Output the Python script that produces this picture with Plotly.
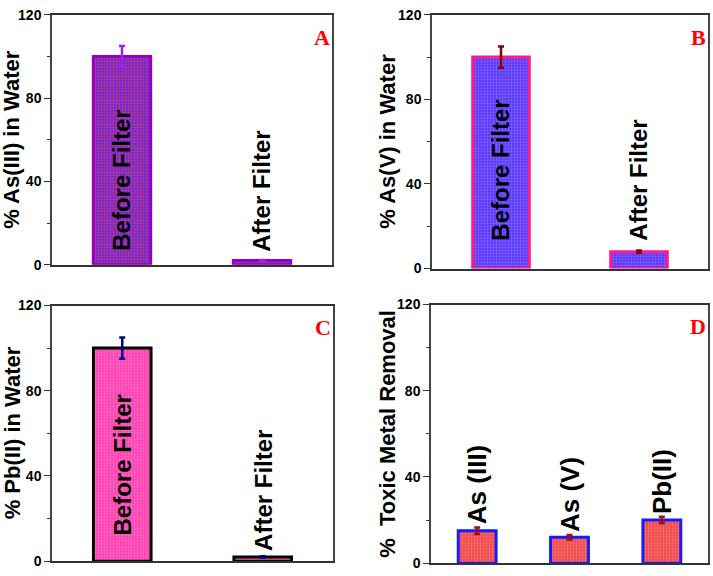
import plotly.graph_objects as go

# ---- data ----
filter_cats = ["Before Filter", "After Filter"]
as3_values = [100, 2]
as3_errors = [5, 0.3]
as5_values = [100, 8]
as5_errors = [5, 0.5]
pb2_values = [100, 2]
pb2_errors = [5, 0.3]
metal_cats = ["As (III)", "As (V)", "Pb(II)"]
removal_values = [15, 12, 20]
removal_errors = [1.5, 1, 1.5]
y_ticks = [0, 40, 80, 120]

W, H = 713, 576

def px_dom_x(a, b):
    return [a / W, b / W]

def px_dom_y(top, bottom):
    return [1 - bottom / H, 1 - top / H]

panels = [
    dict(name="A", cats=filter_cats, vals=as3_values, errs=as3_errors,
         dx=px_dom_x(52, 332), dy=px_dom_y(7, 264),
         bg="#6a26e8", fg="#ff4a1a", line="#9400c8", err="#a020f0",
         sol=0.5, title="% As(III) in Water", tx=12, text_base=[5.5, 5]),
    dict(name="B", cats=filter_cats, vals=as5_values, errs=as5_errors,
         dx=px_dom_x(432, 708), dy=px_dom_y(7, 268),
         bg="#5a36ff", fg="#a890ff", line="#ff1a8c", err="#8b0000",
         sol=0.4, title="% As(V) in Water", tx=388, text_base=[12, 12]),
    dict(name="C", cats=filter_cats, vals=pb2_values, errs=pb2_errors,
         dx=px_dom_x(52, 333), dy=px_dom_y(306, 569),
         bg="#ff3fb0", fg="#ff9ad6", line="#000000", err="#00008b",
         sol=0.4, title="% Pb(II) in Water", tx=12, text_base=[11, 4]),
    dict(name="D", cats=metal_cats, vals=removal_values, errs=removal_errors,
         dx=px_dom_x(431, 708), dy=px_dom_y(305, 571),
         bg="#f04848", fg="#ffa0a0", line="#1a1aff", err="#a01010",
         sol=0.4, title="%  Toxic Metal Removal", tx=388, text_base=None),
]

fig = go.Figure()
annotations = []
for i, p in enumerate(panels):
    k = "" if i == 0 else str(i + 1)
    xa, ya = "x" + k, "y" + k
    fig.add_trace(go.Bar(
        x=list(range(len(p["cats"]))), y=p["vals"],
        width=0.41,
        marker=dict(color=p["bg"], line=dict(color=p["line"], width=3),
                    pattern=dict(shape="+", fgcolor=p["fg"], bgcolor=p["bg"],
                                 size=3, solidity=p["sol"])),
        error_y=dict(type="data", array=p["errs"], color=p["err"],
                     thickness=2.5, width=3),
        xaxis=xa, yaxis=ya, showlegend=False, hoverinfo="skip",
    ))
    ncat = len(p["cats"])
    fig.layout["xaxis" + k] = dict(
        domain=p["dx"], range=[-0.5, ncat - 0.5], anchor=ya,
        showticklabels=False, ticks="", showline=True, linecolor="#333",
        linewidth=1.5, mirror=True, showgrid=False, zeroline=False)
    fig.layout["yaxis" + k] = dict(
        domain=p["dy"], range=[0, 120], anchor=xa,
        tickvals=y_ticks, ticks="outside", ticklen=6, tickwidth=1.2,
        tickcolor="#333",
        minor=dict(tickvals=[20, 60, 100], ticks="outside", ticklen=3,
                   tickcolor="#333"),
        tickfont=dict(family="Arial", size=14, color="black", weight="bold"),
        showline=True, linecolor="#444", linewidth=1.5, mirror=True,
        showgrid=False, zeroline=False)
    # axis title
    ymid = (p["dy"][0] + p["dy"][1]) / 2
    annotations.append(dict(
        text="<b>" + p["title"] + "</b>", xref="paper", yref="paper",
        x=p["tx"] / W, y=ymid, textangle=-90, showarrow=False,
        xanchor="center", yanchor="middle",
        font=dict(family="Arial", size=22, color="black")))
    # panel label
    annotations.append(dict(
        text="<b>" + p["name"] + "</b>", xref="paper", yref="paper",
        x=p["dx"][1], y=p["dy"][1] - 8 / H, showarrow=False,
        xanchor="right", yanchor="top",
        font=dict(family="Liberation Serif", size=22, color="#ff0000")))
    # bar labels
    for j, c in enumerate(p["cats"]):
        if p["text_base"] is not None:
            base = p["text_base"][j]
            size = 24
        else:
            base = p["vals"][j] + p["errs"][j] + 0.5
            size = 26
        annotations.append(dict(
            text="<b>" + c + "</b>", xref=xa, yref=ya, x=j, y=base,
            textangle=-90, showarrow=False, xanchor="center", yanchor="bottom",
            font=dict(family="Arial", size=size, color="black")))

fig.update_layout(
    width=W, height=H, margin=dict(l=0, r=0, t=0, b=0),
    paper_bgcolor="white", plot_bgcolor="white",
    annotations=annotations, bargap=0.5,
)
fig.write_html("out.html", config={"displayModeBar": False},
               post_script="document.body.style.margin='0';document.body.style.overflow='hidden';")
